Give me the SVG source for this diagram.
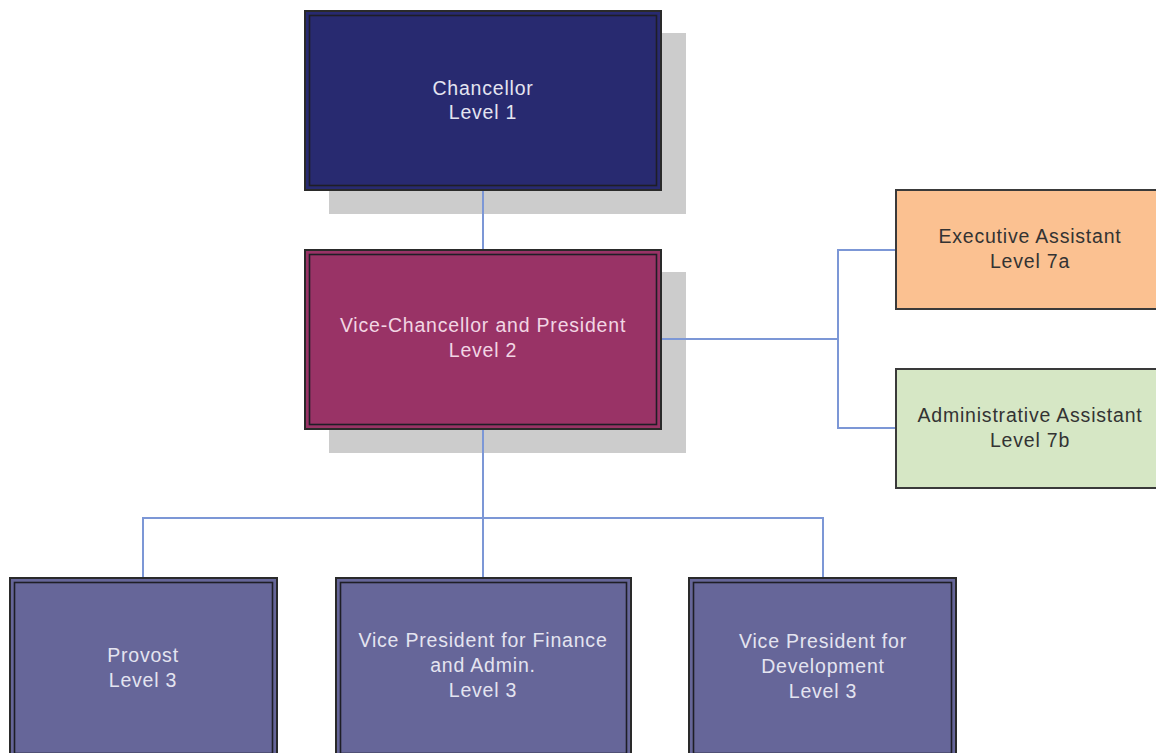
<svg xmlns="http://www.w3.org/2000/svg" width="1156" height="753" viewBox="0 0 1156 753">
<style>
.shadow{fill:#cccccc}
.outer{stroke:#2a2a2a;stroke-width:2}
.inner{fill:none;stroke:#1e1e26;stroke-width:1.6}
.lbl{font-family:"Liberation Sans",Arial,sans-serif;font-size:19.5px;letter-spacing:0.8px;text-anchor:middle}
.light{fill:#e4e4f0}
.pink{fill:#f2d6e4}
.dark{fill:#333333}
.conn{fill:none;stroke:#7c97d6;stroke-width:2}
</style>
<rect width="1156" height="753" fill="#ffffff"/>
<g id="shadows">
<rect class="shadow" x="329" y="33" width="357" height="181"/>
<rect class="shadow" x="329" y="272" width="357" height="181"/>
</g>
<g id="chancellor">
<rect class="outer" x="305" y="11" width="356" height="179" fill="#282a70"/>
<rect class="inner" x="309.5" y="15.5" width="347" height="170"/>
<text class="lbl light" x="483" y="95">Chancellor</text>
<text class="lbl light" x="483" y="119">Level 1</text>
</g>
<g id="vice-chancellor">
<rect class="outer" x="305" y="250" width="356" height="179" fill="#993366"/>
<rect class="inner" x="309.5" y="254.5" width="347" height="170"/>
<text class="lbl pink" x="483" y="332">Vice-Chancellor and President</text>
<text class="lbl pink" x="483" y="357">Level 2</text>
</g>
<g id="connectors">
<line class="conn" x1="483" y1="191" x2="483" y2="249"/>
<polyline class="conn" points="662,339 838,339"/>
<polyline class="conn" points="896,250 838,250 838,428 896,428"/>
<line class="conn" x1="483" y1="430" x2="483" y2="577"/>
<polyline class="conn" points="143,577 143,518 823,518 823,577"/>
</g>
<g id="executive-assistant">
<rect x="896" y="190" width="268" height="119" fill="#fbc191" stroke="#3a3a3a" stroke-width="2"/>
<text class="lbl dark" x="1030" y="243">Executive Assistant</text>
<text class="lbl dark" x="1030" y="268">Level 7a</text>
</g>
<g id="administrative-assistant">
<rect x="896" y="369" width="268" height="119" fill="#d6e7c5" stroke="#3a3a3a" stroke-width="2"/>
<text class="lbl dark" x="1030" y="422">Administrative Assistant</text>
<text class="lbl dark" x="1030" y="447">Level 7b</text>
</g>
<g id="provost">
<rect class="outer" x="10" y="578" width="267" height="180" fill="#666699"/>
<rect class="inner" x="14.5" y="582.5" width="258" height="171"/>
<text class="lbl light" x="143" y="662">Provost</text>
<text class="lbl light" x="143" y="687">Level 3</text>
</g>
<g id="vp-finance">
<rect class="outer" x="336" y="578" width="295" height="180" fill="#666699"/>
<rect class="inner" x="340.5" y="582.5" width="286" height="171"/>
<text class="lbl light" x="483" y="647">Vice President for Finance</text>
<text class="lbl light" x="483" y="672">and Admin.</text>
<text class="lbl light" x="483" y="697">Level 3</text>
</g>
<g id="vp-development">
<rect class="outer" x="689" y="578" width="267" height="180" fill="#666699"/>
<rect class="inner" x="693.5" y="582.5" width="258" height="171"/>
<text class="lbl light" x="823" y="648">Vice President for</text>
<text class="lbl light" x="823" y="673">Development</text>
<text class="lbl light" x="823" y="698">Level 3</text>
</g>
</svg>
